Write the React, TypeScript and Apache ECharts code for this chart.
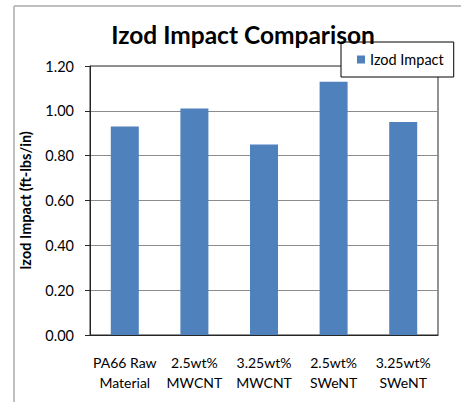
import React, { useEffect, useRef } from "react";
import * as echarts from "echarts";

const categories = ["PA66 Raw\nMaterial", "2.5wt%\nMWCNT", "3.25wt%\nMWCNT", "2.5wt%\nSWeNT", "3.25wt%\nSWeNT"];
const izodValues = [0.93, 1.01, 0.85, 1.13, 0.95];
const seriesName = "Izod Impact";
const titleText = "Izod Impact Comparison";
const yAxisName = "Izod Impact (ft-lbs/in)";

const FONT = "Lato, 'Liberation Sans', sans-serif";

export default function App() {
  const ref = useRef<HTMLDivElement>(null);
  useEffect(() => {
    if (!ref.current) return;
    const chart = echarts.init(ref.current, undefined, { renderer: "svg" });
    chart.setOption({
      animation: false,
      backgroundColor: "#fff",
      textStyle: { fontFamily: FONT },
      title: {
        text: titleText,
        left: 238,
        top: 17,
        textAlign: "center",
        textStyle: { fontFamily: FONT, fontWeight: "bold", fontSize: 24.5, color: "#000" },
      },
      legend: {
        left: 341,
        top: 42,
        orient: "horizontal",
        backgroundColor: "#fff",
        borderColor: "#000",
        borderWidth: 1,
        padding: [10, 10, 10, 16],
        itemWidth: 8,
        itemHeight: 8,
        icon: "rect",
        textStyle: { fontFamily: FONT, fontSize: 14.5, color: "#000" },
        data: [seriesName],
      },
      grid: {
        left: 90,
        top: 66,
        right: 23,
        bottom: 67,
        show: true,
        borderColor: "#262626",
        borderWidth: 1,
        containLabel: false,
      },
      xAxis: {
        type: "category",
        data: categories,
        axisLine: { lineStyle: { color: "#262626" } },
        axisTick: { show: false },
        axisLabel: { fontFamily: FONT, fontSize: 14, color: "#000", lineHeight: 20, margin: 17, interval: 0 },
      },
      yAxis: {
        type: "value",
        min: 0,
        max: 1.2,
        interval: 0.2,
        name: yAxisName,
        nameLocation: "middle",
        nameGap: 57,
        nameTextStyle: { fontFamily: FONT, fontWeight: "bold", fontSize: 14.5, color: "#000" },
        axisLine: { show: true, lineStyle: { color: "#262626" } },
        axisTick: { show: true, length: 5, lineStyle: { color: "#262626" } },
        axisLabel: {
          fontFamily: FONT,
          fontSize: 14.5,
          color: "#000",
          margin: 16,
          formatter: (v: number) => v.toFixed(2),
        },
        splitLine: { show: true, lineStyle: { color: "#8c8c8c" } },
      },
      series: [
        {
          name: seriesName,
          type: "bar",
          data: izodValues,
          barWidth: 28,
          itemStyle: { color: "#4f81bd" },
        },
      ],
      graphic: [
        { type: "line", shape: { x1: 14, y1: 6, x2: 461, y2: 6 }, style: { stroke: "#bfbfbf", lineWidth: 2 }, z: 0 },
        { type: "line", shape: { x1: 14, y1: 6, x2: 14, y2: 402 }, style: { stroke: "#bfbfbf", lineWidth: 2 }, z: 0 },
      ],
    });
    return () => chart.dispose();
  }, []);
  return (
    <div
      ref={ref}
      style={{ position: "absolute", left: 0, top: 0, width: 461, height: 402 }}
    />
  );
}
